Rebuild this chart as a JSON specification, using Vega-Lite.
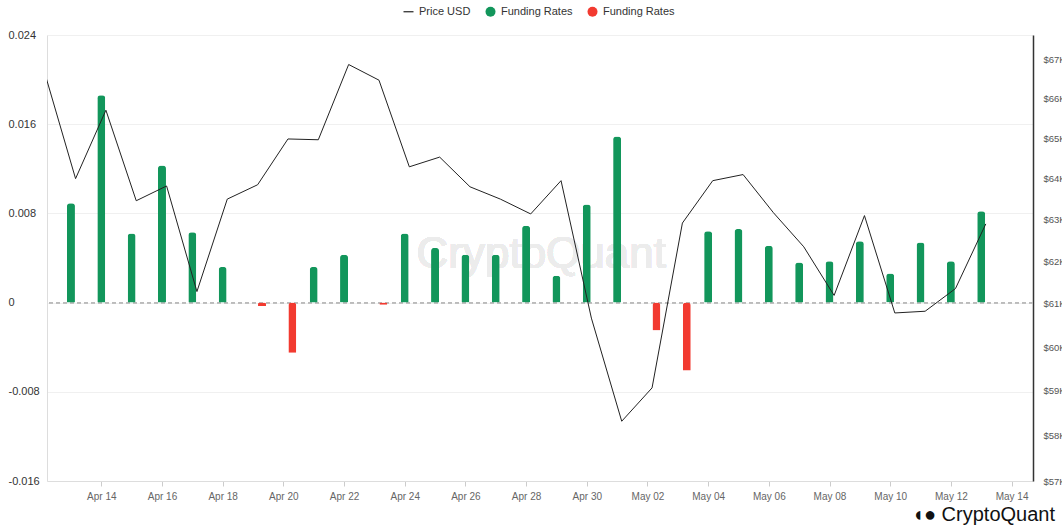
{
  "$schema": "https://vega.github.io/schema/vega-lite/v6.json",
  "width": 986,
  "height": 446,
  "autosize": {"type": "none"},
  "padding": {"left": 47, "top": 35, "right": 29, "bottom": 47},
  "config": {
    "view": {"stroke": null},
    "font": "Liberation Sans",
    "axis": {"labelFont": "Liberation Sans", "titleFont": "Liberation Sans"},
    "legend": {"labelFont": "Liberation Sans"}
  },
  "title": {
    "text": "◖● CryptoQuant",
    "orient": "bottom",
    "anchor": "end",
    "frame": "group",
    "fontSize": 20,
    "fontWeight": "normal",
    "color": "#111111",
    "offset": 4,
    "dx": 22
  },
  "data": {
    "values": [
      {"date": "2024-04-12", "price": 66600, "rate": null, "s": null},
      {"date": "2024-04-13", "price": 64000, "rate": 0.0089, "s": "pos"},
      {"date": "2024-04-14", "price": 65700, "rate": 0.0186, "s": "pos"},
      {"date": "2024-04-15", "price": 63460, "rate": 0.0062, "s": "pos"},
      {"date": "2024-04-16", "price": 63820, "rate": 0.0123, "s": "pos"},
      {"date": "2024-04-17", "price": 61290, "rate": 0.0063, "s": "pos"},
      {"date": "2024-04-18", "price": 63500, "rate": 0.0032, "s": "pos"},
      {"date": "2024-04-19", "price": 63850, "rate": -0.0003, "s": "neg"},
      {"date": "2024-04-20", "price": 64980, "rate": -0.0045, "s": "neg"},
      {"date": "2024-04-21", "price": 64960, "rate": 0.0032, "s": "pos"},
      {"date": "2024-04-22", "price": 66860, "rate": 0.0043, "s": "pos"},
      {"date": "2024-04-23", "price": 66460, "rate": -0.0002, "s": "neg"},
      {"date": "2024-04-24", "price": 64290, "rate": 0.0062, "s": "pos"},
      {"date": "2024-04-25", "price": 64530, "rate": 0.0049, "s": "pos"},
      {"date": "2024-04-26", "price": 63800, "rate": 0.0043, "s": "pos"},
      {"date": "2024-04-27", "price": 63500, "rate": 0.0043, "s": "pos"},
      {"date": "2024-04-28", "price": 63140, "rate": 0.0069, "s": "pos"},
      {"date": "2024-04-29", "price": 63950, "rate": 0.0024, "s": "pos"},
      {"date": "2024-04-30", "price": 60670, "rate": 0.0088, "s": "pos"},
      {"date": "2024-05-01", "price": 58320, "rate": 0.0149, "s": "pos"},
      {"date": "2024-05-02", "price": 59070, "rate": -0.0025, "s": "neg"},
      {"date": "2024-05-03", "price": 62920, "rate": -0.0061, "s": "neg"},
      {"date": "2024-05-04", "price": 63950, "rate": 0.0064, "s": "pos"},
      {"date": "2024-05-05", "price": 64100, "rate": 0.0066, "s": "pos"},
      {"date": "2024-05-06", "price": 63170, "rate": 0.0051, "s": "pos"},
      {"date": "2024-05-07", "price": 62350, "rate": 0.0036, "s": "pos"},
      {"date": "2024-05-08", "price": 61200, "rate": 0.0037, "s": "pos"},
      {"date": "2024-05-09", "price": 63100, "rate": 0.0055, "s": "pos"},
      {"date": "2024-05-10", "price": 60790, "rate": 0.0026, "s": "pos"},
      {"date": "2024-05-11", "price": 60830, "rate": 0.0054, "s": "pos"},
      {"date": "2024-05-12", "price": 61360, "rate": 0.0037, "s": "pos"},
      {"date": "2024-05-13", "price": 62900, "rate": 0.0082, "s": "pos"}
    ]
  },
  "encoding": {
    "x": {
      "field": "date",
      "type": "temporal",
      "scale": {
        "type": "utc",
        "domain": [
          {"year": 2024, "month": 4, "date": 12, "hours": 9, "utc": true},
          {"year": 2024, "month": 5, "date": 14, "hours": 13, "utc": true}
        ]
      },
      "axis": {
        "title": null,
        "format": "%b %d",
        "values": [
          {"year": 2024, "month": 4, "date": 14, "utc": true},
          {"year": 2024, "month": 4, "date": 16, "utc": true},
          {"year": 2024, "month": 4, "date": 18, "utc": true},
          {"year": 2024, "month": 4, "date": 20, "utc": true},
          {"year": 2024, "month": 4, "date": 22, "utc": true},
          {"year": 2024, "month": 4, "date": 24, "utc": true},
          {"year": 2024, "month": 4, "date": 26, "utc": true},
          {"year": 2024, "month": 4, "date": 28, "utc": true},
          {"year": 2024, "month": 4, "date": 30, "utc": true},
          {"year": 2024, "month": 5, "date": 2, "utc": true},
          {"year": 2024, "month": 5, "date": 4, "utc": true},
          {"year": 2024, "month": 5, "date": 6, "utc": true},
          {"year": 2024, "month": 5, "date": 8, "utc": true},
          {"year": 2024, "month": 5, "date": 10, "utc": true},
          {"year": 2024, "month": 5, "date": 12, "utc": true},
          {"year": 2024, "month": 5, "date": 14, "utc": true}
        ],
        "grid": false,
        "domainColor": "#dddddd",
        "tickColor": "#cccccc",
        "tickSize": 5,
        "labelPadding": 5,
        "labelFontSize": 10,
        "labelColor": "#666666",
        "labelFlush": false
      }
    }
  },
  "layer": [
    {
      "layer": [
        {
          "mark": {"type": "text", "fontSize": 44, "color": "#ececec", "align": "center", "baseline": "middle"},
          "encoding": {
            "x": {"datum": {"year": 2024, "month": 4, "date": 28, "hours": 12, "utc": true}, "type": "temporal"},
            "y": {"datum": 0.0043, "type": "quantitative"},
            "text": {"value": "CryptoQuant"}
          }
        },
        {
          "mark": {"type": "rule", "color": "#bbbbbb", "strokeDash": [4, 3], "strokeWidth": 1},
          "encoding": {
            "x": null,
            "y": {"datum": 0, "type": "quantitative"}
          }
        },
        {
          "transform": [{"filter": "datum.s === 'pos'"}],
          "mark": {"type": "bar", "width": 8, "cornerRadiusEnd": 3},
          "encoding": {
            "y": {"field": "rate", "type": "quantitative"},
            "color": {
              "field": "s",
              "type": "nominal",
              "title": null,
              "scale": {"domain": ["Price USD", "pos", "neg"], "range": ["#222222", "#12965b", "#f23a30"]}
            }
          }
        },
        {
          "transform": [{"filter": "datum.s === 'neg'"}],
          "mark": {"type": "bar", "width": 8, "cornerRadiusEnd": 3, "xOffset": 9},
          "encoding": {
            "y": {"field": "rate", "type": "quantitative"},
            "color": {
              "field": "s",
              "type": "nominal",
              "title": null,
              "scale": {"domain": ["Price USD", "pos", "neg"], "range": ["#222222", "#12965b", "#f23a30"]}
            }
          }
        }
      ],
      "encoding": {
        "y": {
          "type": "quantitative",
          "scale": {"domain": [-0.016, 0.024], "nice": false, "zero": false},
          "axis": {
            "title": null,
            "orient": "left",
            "values": [-0.016, -0.008, 0, 0.008, 0.016, 0.024],
            "labelExpr": "'' + datum.value",
            "grid": true,
            "gridColor": "#f0f0f0",
            "domainColor": "#dddddd",
            "ticks": false,
            "tickSize": 0,
            "labelAlign": "left",
            "labelPadding": 39,
            "labelFontSize": 11,
            "labelColor": "#333333"
          }
        }
      }
    },
    {
      "mark": {"type": "line", "strokeWidth": 1, "xOffset": 4.6, "clip": true},
      "encoding": {
        "y": {
          "field": "price",
          "type": "quantitative",
          "scale": {"type": "log", "domain": [57000, 67620], "nice": false, "zero": false},
          "axis": {
            "title": null,
            "orient": "right",
            "values": [57000, 58000, 59000, 60000, 61000, 62000, 63000, 64000, 65000, 66000, 67000],
            "labelExpr": "'$' + (datum.value / 1000) + 'K'",
            "grid": false,
            "domainColor": "#333333",
            "domainWidth": 1.5,
            "ticks": false,
            "tickSize": 0,
            "labelPadding": 10,
            "labelFontSize": 9.5,
            "labelColor": "#555555"
          }
        },
        "color": {
          "datum": "Price USD",
          "type": "nominal",
          "title": null,
          "scale": {"domain": ["Price USD", "pos", "neg"], "range": ["#222222", "#12965b", "#f23a30"]},
          "legend": {
            "title": null,
            "orient": "none",
            "legendX": 356,
            "legendY": -29,
            "direction": "horizontal",
            "columns": 3,
            "padding": 0,
            "columnPadding": 14,
            "labelOffset": 5,
            "labelFontSize": 11,
            "labelColor": "#333333",
            "symbolSize": 100,
            "labelExpr": "datum.label === 'Price USD' ? 'Price USD' : 'Funding Rates'",
            "encode": {
              "symbols": {
                "update": {
                  "shape": {"signal": "datum.value === 'Price USD' ? 'stroke' : 'circle'"},
                  "fill": {"signal": "datum.value === 'Price USD' ? 'transparent' : scale('color', datum.value)"},
                  "stroke": {"signal": "scale('color', datum.value)"},
                  "strokeWidth": {"signal": "datum.value === 'Price USD' ? 1.2 : 0"},
                  "opacity": {"value": 1}
                }
              }
            }
          }
        }
      }
    }
  ],
  "resolve": {"scale": {"y": "independent"}, "axis": {"y": "independent"}}
}
